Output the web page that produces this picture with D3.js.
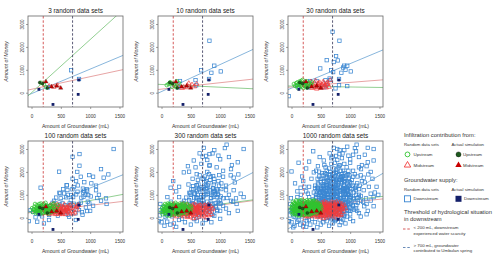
<!DOCTYPE html>
<html><head><meta charset="utf-8">
<script src="https://cdn.jsdelivr.net/npm/d3@7"></script>
<style>body{margin:0;background:#fff}svg{display:block;font-family:"Liberation Sans",Arial,sans-serif}</style>
</head><body><svg id="c" width="500" height="261"></svg>
<script>
const panelTitles = ["3 random data sets","10 random data sets","30 random data sets","100 random data sets","300 random data sets","1000 random data sets"];
const xTicks = [0,500,1000,1500];
const yTicks = [0,1000,2000,3000];
const thresholds = [200,700];
const xTitle = "Amount of Groundwater (mL)";
const yTitle = "Amount of Money";

// Random data sets: each panel shows its own batch plus all earlier batches
const down3 = [[675,980],[280,235],[810,600]];
const down10 = [[817,2270],[900,1180],[850,870],[1010,930],[580,550],[315,510],[590,320]];
const down30 = [[700,2660],[600,1420],[790,1410],[490,1060],[710,900],[950,1180],[880,1100],[660,550],[430,510],[-45,-150],[810,330],[750,190],[950,290],[240,420],[560,240],[760,1600],[720,1340],[100,280],[650,620],[920,1000]];
const down100 = [[1400,3000],[1185,2120],[1310,1890],[818,2780],[470,2010],[985,1860],[1050,1790],[840,1790],[155,1310],[600,1410],[612,1210],[698,1240],[784,1135],[876,1270],[944,1240],[967,990],[887,920],[761,1020],[475,1090],[555,1060],[590,890],[498,845],[670,770],[384,740],[841,655],[985,625],[1185,740],[1270,845],[670,555],[487,580],[527,625],[784,480],[927,450],[97,-175],[69,20],[-17,335],[212,-250],[298,-100],[641,45],[756,-100],[1100,1200],[1150,1000],[1230,1750],[1020,1500],[900,1550],[620,1000],[540,1250],[420,880],[360,650],[700,400],[860,240],[1050,520],[1280,600],[300,120],[180,60],[450,90],[620,130],[780,2000],[700,1700],[1100,1400],[960,700],[720,610],[550,430],[400,330],[150,150],[30,250],[870,130],[1000,300],[610,280],[1120,860]];
const down300 = [[1110,3190],[1080,3040],[970,2710],[650,2810],[780,2520],[870,2810],[1300,2420],[580,2200],[380,1980],[300,1350],[1250,1540],[1200,2300],[1000,2550],[900,2950],[550,2500],[450,2250],[1230,1200],[1350,1050],[200,1600],[100,900],[720,3050],[820,2300],[940,2200],[1150,2650],[680,2350],[600,1900],[1050,2050],[1180,1850],[760,2700],[250,1150],
[-30,100],[0,-200],[50,-350],[150,-300],[250,-400],[400,-200],[500,-300],[600,-150],[700,-250],[850,-200],[1000,-50],[1150,200],[1300,300],[1400,900],[20,450],[80,150],[350,-50],[560,-60],[900,80],[1100,400],[1220,700],[1050,850],[-20,600],[160,700],[300,900],
[520,620],[560,880],[600,1150],[640,760],[680,1320],[720,980],[760,540],[800,1500],[840,860],[880,1280],[920,640],[960,1050],[500,1000],[540,1380],[580,520],[620,1650],[660,420],[700,1150],[740,1800],[780,700],[820,1200],[860,450],[900,1700],[940,900],[980,1400],[470,760],[510,1250],[550,300],[590,700],[630,1450],[670,900],[710,360],[750,1250],[790,1050],[830,1650],[870,600],[910,1150],[950,350],[990,750],[1020,1250],[480,420],[530,1700],[570,1050],[610,850],[650,1850],[690,620],[730,1550],[770,280],[810,1900],[850,1000],[890,1450],[930,500],[970,1600],[1010,620],[460,1450],[500,250],[540,580],[700,750],[760,1400],[820,380],[880,1820],[640,1250],[600,220],[720,1700],[780,1300]];
const down1000 = [[0,2020],[120,2400],[370,2900],[250,2150],[1300,3050],[1250,2750],[1400,2500],[1350,2000],[1200,1600],[1450,1350],[1100,2900],[950,3100],[820,2950],[680,2600],[560,2300],[480,2650],[420,2050],[300,2450],[180,1800],[60,1500],[1000,2400],[1150,2200],[860,2600],[740,2400],[640,2150],[1280,2250],[1380,1700],[1050,2750],[900,2350],[780,3000],[520,1950],[340,1700],[220,1350],[1420,1100],[1320,1350],
[-40,-150],[30,-420],[120,-100],[200,-380],[320,-300],[440,-420],[540,-200],[640,-350],[740,-150],[820,-320],[920,-250],[1050,-150],[1180,50],[1280,150],[1400,500],[-50,300],[40,50],[260,-150],[480,-80],[680,-60],[880,-80],[1120,300],[1240,500],[1350,750],[-10,850],[100,1150],[1480,1000],[400,1300],[280,1050],[160,1000],[50,300],[150,250],[100,500],
[400,450],[420,900],[440,1300],[460,600],[480,1100],[500,1550],[520,350],[540,820],[560,1200],[580,1750],[600,450],[620,1050],[640,560],[660,1400],[680,200],[700,1900],[720,500],[740,1050],[760,1650],[780,380],[800,800],[820,1350],[840,2050],[860,700],[880,1150],[900,300],[920,1300],[940,1850],[960,560],[980,1000],[410,700],[430,1150],[450,350],[470,1800],[490,680],[510,870],[530,1450],[550,650],[570,1950],[590,1000],[610,1300],[630,350],[650,1600],[670,780],[690,1050],[710,1300],[730,250],[750,800],[770,1150],[790,1850],[810,600],[830,1000],[850,1500],[870,1800],[890,900],[910,650],[930,1100],[950,1500],[970,2050],[990,450],[1010,900],[1030,1650],[1060,1100],[1090,700],[1120,1500],[1150,1250],[1180,950],[1080,1900],[600,2050],[720,2150],[800,2200],[880,2050],[960,1900],[650,1750],[550,1600],[450,1500],[380,1100],[370,800],[390,250],[700,1450],[760,950],[820,450],[860,1200],[660,1050],[620,750],[580,1450],[540,1100],[500,750],[460,1000],[740,1350],[780,1550],[840,1750],[900,1600],[940,1300],[980,1700],[1000,1300],[1040,550],[1070,350],[1100,1000],[1130,650],[680,1700],[560,950],[640,1900],[760,1950],[820,1650],[900,1400],[700,600],[600,650],[520,1150],[780,1100],
[395,600],[415,1000],[435,200],[455,1250],[475,500],[495,1700],[515,950],[535,250],[555,1400],[575,800],[595,1550],[615,500],[635,1150],[655,300],[675,1500],[695,850],[715,1750],[735,650],[755,1500],[775,900],[795,1300],[815,200],[835,1150],[855,1900],[875,400],[895,1250],[915,1750],[935,700],[955,1200],[975,300],[995,1550],[405,1400],[425,550],[445,1700],[465,850],[485,300],[505,1300],[525,750],[545,1850],[565,450],[585,1150],[605,1750],[625,900],[645,1350],[665,600],[685,1250],[705,1050],[725,1950],[745,450],[765,1250],[785,750],[805,1700],[825,850],[845,350],[865,1550],[885,700],[905,1950],[925,850],[945,450],[965,1350],[985,850],[1005,1100],[1025,400],[1045,1400],[1065,800],[1085,1300],[1105,550],[1125,1800],[1145,900],[1165,1400],[660,2000],[760,2100],[860,1650],[560,1300],[460,1200],[700,100],[800,50],[900,150],[600,100],[500,100],[650,0],[750,-50],[850,0],[950,50],[1000,150]];

const up3 = [[160,430],[210,370],[250,240]];
const up10 = [[145,450],[225,305],[120,380],[180,260],[300,420],[90,330],[260,500]];
const up30 = [[150,410],[100,450],[170,520],[230,480],[60,300],[280,350],[200,200],[130,250],[320,300],[350,450],[40,380],[190,560],[110,200],[240,420],[270,260],[80,420],[210,330],[160,300],[330,380],[140,500]];
const up100 = [[20,250],[50,480],[70,200],[90,550],[110,300],[130,600],[150,180],[170,380],[190,450],[210,600],[230,250],[250,550],[270,420],[290,180],[310,500],[340,250],[360,580],[380,620],[400,350],[430,450],[30,350],[60,600],[100,380],[120,520],[140,330],[160,620],[180,200],[200,500],[220,400],[240,650],[260,300],[280,480],[300,250],[320,550],[350,350],[370,480],[420,300],[450,550],[10,420],[85,260]];
const up300 = [[15,150],[45,300],[75,450],[95,100],[125,420],[145,560],[165,120],[185,330],[205,470],[225,150],[245,350],[265,580],[285,300],[305,130],[325,440],[345,560],[365,200],[385,400],[405,520],[425,180],[445,380],[470,480],[490,250],[510,400],[35,520],[55,200],[105,620],[135,90],[175,540],[195,250],[215,420],[235,560],[255,180],[275,460],[295,380],[315,620],[335,200],[355,320],[375,540],[395,260],[415,450],[435,600],[455,300],[480,350],[500,500],[5,280],[65,380],[115,250],[155,480],[195,150]];
const up1000 = [[10,550],[30,200],[50,650],[70,350],[90,700],[110,150],[130,450],[150,750],[170,280],[190,650],[210,120],[230,720],[250,430],[270,680],[290,520],[310,760],[330,320],[350,680],[370,380],[390,700],[410,600],[430,350],[450,650],[470,420],[20,480],[40,620],[60,150],[80,760],[100,520],[120,320],[140,680],[160,220],[180,780],[200,360],[220,560],[240,220],[260,760],[280,600],[300,420],[320,700],[340,480],[360,200],[380,760],[400,480],[420,700],[440,250],[460,560],[0,400],[25,700],[75,560],[95,420],[125,720],[145,130],[165,600],[185,420],[205,740],[225,330],[245,620],[265,150],[285,700],[305,560],[325,160],[345,600],[365,720],[385,300],[405,400],[425,550],[445,480],[465,300],[485,600]];

const mid3 = [[300,290],[380,250],[440,320]];
const mid10 = [[465,410],[520,350],[250,300],[600,380],[350,200],[420,230],[560,270]];
const mid30 = [[290,400],[330,480],[370,350],[410,520],[450,250],[480,450],[510,200],[540,480],[570,330],[610,450],[640,250],[660,550],[390,430],[430,170],[500,300],[590,220],[620,370],[350,300],[460,380],[550,420]];
const mid100 = [[250,200],[270,450],[300,150],[320,550],[340,380],[360,250],[380,500],[400,150],[420,420],[440,580],[460,300],[480,150],[500,500],[520,250],[540,400],[560,580],[580,150],[600,450],[620,280],[640,520],[660,180],[680,400],[700,300],[720,520],[740,220],[760,450],[780,350],[800,550],[260,350],[310,280],[370,600],[430,350],[490,380],[530,150],[590,330],[650,420],[710,170],[770,500],[350,450],[470,520]];
const mid300 = [[210,100],[230,300],[260,50],[280,250],[300,480],[330,100],[350,350],[380,50],[400,300],[420,500],[440,100],[460,450],[490,50],[510,320],[530,550],[550,100],[570,250],[600,0],[620,500],[640,100],[660,320],[690,50],[710,400],[730,100],[750,300],[780,150],[800,420],[820,250],[840,500],[860,350],[240,150],[290,400],[320,200],[370,450],[410,200],[450,20],[480,280],[520,450],[560,350],[590,550],[630,200],[670,520],[700,220],[740,550],[770,0],[810,100],[850,150],[880,400],[360,150],[540,-30]];
const mid1000 = [[200,350],[220,550],[240,450],[260,650],[280,150],[300,600],[320,400],[340,650],[360,100],[380,350],[400,620],[420,250],[440,680],[460,150],[480,600],[500,200],[520,650],[540,300],[560,700],[580,400],[600,650],[620,100],[640,600],[660,450],[680,680],[700,500],[720,250],[740,650],[760,150],[780,600],[800,300],[820,650],[840,100],[860,600],[880,250],[250,500],[290,50],[310,500],[350,550],[390,150],[410,450],[450,550],[470,100],[510,500],[550,600],[570,50],[610,550],[650,300],[690,600],[730,400],[770,700],[810,500],[850,450],[230,100],[270,300],[330,300],[370,550],[430,600],[490,400],[530,100],[580,600],[630,420],[670,150],[710,650],[750,500],[790,200],[830,350],[870,500],[900,550],[920,400]];

// Actual simulation (same in every panel)
const actualUp = [[140,450],[190,400],[270,210]];
const actualMid = [[246,483],[343,263],[429,293],[498,205]];
const actualDown = [[126,146],[366,-512],[796,-73],[807,556]];

// Fitted lines per panel: [intercept, slope]
const fitUp = [[0,2.32],[360,-0.12],[290,-0.04],[270,0.48],[250,0.34],[480,0.29]];
const fitMid = [[150,0.55],[157,0.28],[250,0.2],[230,0.31],[200,0.35],[400,0.27]];
const fitDown = [[-40,1.07],[50,1.18],[200,1.07],[270,1.03],[-100,1.33],[-400,1.5]];

const downBatches = [down3,down10,down30,down100,down300,down1000];
const upBatches = [up3,up10,up30,up100,up300,up1000];
const midBatches = [mid3,mid10,mid30,mid100,mid300,mid1000];

const C = {up:"#2fc42f", mid:"#f23b3b", down:"#3a86d2", upA:"#1d5a1d", midA:"#c80000", downA:"#14206a",
  lUp:"#86c986", lMid:"#e49a9a", lDown:"#7aaed8", th1:"#d04848", th2:"#4a4a68", box:"#666", txt:"#333"};

const svg = d3.select("#c");
const lefts = [28,158,288], tops = [16,141], W = 95, H = 91;
const tri = d3.symbol().type(d3.symbolTriangle);

panelTitles.forEach((title,i)=>{
  const L = lefts[i%3], T = tops[Math.floor(i/3)];
  const x = d3.scaleLinear().domain([-60,1560]).range([L,L+W]);
  const y = d3.scaleLinear().domain([-624,3350]).range([T+H,T]);
  const g = svg.append("g");
  const cid = "clip"+i;
  g.append("clipPath").attr("id",cid).append("rect").attr("x",L).attr("y",T).attr("width",W).attr("height",H);
  const pg = g.append("g").attr("clip-path",`url(#${cid})`);

  [[fitDown[i],C.lDown],[fitMid[i],C.lMid],[fitUp[i],C.lUp]].forEach(([f,col])=>{
    const xs=[-60,1560];
    pg.append("line").attr("x1",x(xs[0])).attr("y1",y(f[0]+f[1]*xs[0])).attr("x2",x(xs[1])).attr("y2",y(f[0]+f[1]*xs[1]))
      .attr("stroke",col).attr("stroke-width",0.9);
  });

  const down = downBatches.slice(0,i+1).flat();
  const up = upBatches.slice(0,i+1).flat();
  const mid = midBatches.slice(0,i+1).flat();
  const s = 3.4;
  pg.append("g").selectAll("rect").data(down).join("rect")
    .attr("x",d=>x(d[0])-s/2).attr("y",d=>y(d[1])-s/2).attr("width",s).attr("height",s)
    .attr("fill","none").attr("stroke",C.down).attr("stroke-width",0.75);
  pg.append("g").selectAll("path").data(mid).join("path")
    .attr("d",tri.size(9)()).attr("transform",d=>`translate(${x(d[0])},${y(d[1])})`)
    .attr("fill","none").attr("stroke",C.mid).attr("stroke-width",0.7);
  pg.append("g").selectAll("circle").data(up).join("circle")
    .attr("cx",d=>x(d[0])).attr("cy",d=>y(d[1])).attr("r",1.8)
    .attr("fill","none").attr("stroke",C.up).attr("stroke-width",0.75);

  thresholds.forEach((t,k)=>{
    pg.append("line").attr("x1",x(t)).attr("x2",x(t)).attr("y1",T).attr("y2",T+H)
      .attr("stroke",k?C.th2:C.th1).attr("stroke-width",0.9).attr("stroke-dasharray","2.5,1.8");
  });

  pg.append("g").selectAll("rect").data(actualDown).join("rect")
    .attr("x",d=>x(d[0])-1.4).attr("y",d=>y(d[1])-1.4).attr("width",2.8).attr("height",2.8).attr("fill",C.downA);
  pg.append("g").selectAll("path").data(actualMid).join("path")
    .attr("d",tri.size(8)()).attr("transform",d=>`translate(${x(d[0])},${y(d[1])})`).attr("fill",C.midA).attr("stroke","#300").attr("stroke-width",0.3);
  pg.append("g").selectAll("circle").data(actualUp).join("circle")
    .attr("cx",d=>x(d[0])).attr("cy",d=>y(d[1])).attr("r",1.5).attr("fill",C.upA).attr("stroke","#000").attr("stroke-width",0.3);

  g.append("rect").attr("x",L).attr("y",T).attr("width",W).attr("height",H).attr("fill","none").attr("stroke",C.box).attr("stroke-width",0.8);

  const ax = g.append("g").attr("transform",`translate(0,${T+H})`)
    .call(d3.axisBottom(x).tickValues(xTicks).tickSize(2).tickPadding(5.6).tickFormat(d3.format("d")));
  ax.select(".domain").remove();
  ax.selectAll("line").attr("stroke",C.box).attr("stroke-width",0.6);
  ax.selectAll("text").attr("font-size",4.6).attr("fill",C.txt).attr("font-family",null);
  const ay = g.append("g").attr("transform",`translate(${L},0)`)
    .call(d3.axisLeft(y).tickValues(yTicks).tickSize(2).tickFormat(d3.format("d")));
  ay.select(".domain").remove();
  ay.selectAll("line").attr("stroke",C.box).attr("stroke-width",0.6);
  ay.selectAll("text").attr("font-size",4.6).attr("fill",C.txt).attr("font-family",null)
    .attr("transform","rotate(-90)").attr("text-anchor","middle").attr("x",0).attr("y",-4.2).attr("dy",null);

  g.append("text").attr("x",L+W/2).attr("y",T-3.2).attr("text-anchor","middle").attr("font-size",6.4).attr("fill","#222").text(title);
  g.append("text").attr("x",L+W/2).attr("y",T+H+21.3).attr("text-anchor","middle").attr("font-size",5.2).attr("fill",C.txt).text(xTitle);
  g.append("text").attr("transform",`translate(${L-19.8},${T+H/2}) rotate(-90)`).attr("text-anchor","middle")
    .attr("font-size",5.2).attr("font-style","italic").attr("fill",C.txt).text(yTitle);
});

const lg = svg.append("g").attr("fill","#333");
const t = (x,y,s,str)=>lg.append("text").attr("x",x).attr("y",y).attr("font-size",s).text(str);
t(404,137,5.8,"Infiltration contribution from:");
t(404,145.6,4.3,"Random data sets"); t(451.5,145.6,4.3,"Actual simulation");
lg.append("circle").attr("cx",407.5).attr("cy",154.4).attr("r",2.4).attr("fill","none").attr("stroke",C.up).attr("stroke-width",0.9);
t(413.5,156,4.4,"Upstream");
lg.append("circle").attr("cx",458.5).attr("cy",154.4).attr("r",2.5).attr("fill",C.upA).attr("stroke","#000").attr("stroke-width",0.4);
t(463,156,4.4,"Upstream");
lg.append("path").attr("d",tri.size(18)()).attr("transform","translate(407.5,165.2)").attr("fill","none").attr("stroke",C.mid).attr("stroke-width",0.9);
t(413.5,166.6,4.4,"Midstream");
lg.append("path").attr("d",tri.size(18)()).attr("transform","translate(458.5,165.2)").attr("fill",C.midA);
t(463,166.6,4.4,"Midstream");
t(404,182,5.8,"Groundwater supply:");
t(404,191,4.3,"Random data sets"); t(451.5,191,4.3,"Actual simulation");
lg.append("rect").attr("x",404.5).attr("y",195.8).attr("width",6).attr("height",6).attr("fill","none").attr("stroke",C.down).attr("stroke-width",0.9);
t(413.5,200.4,4.4,"Downstream");
lg.append("rect").attr("x",455.5).attr("y",195.8).attr("width",6).attr("height",6).attr("fill",C.downA);
t(464,200.4,4.4,"Downstream");
t(404,213.5,5.8,"Threshold of hydrological situation");
t(404,221,5.8,"in downstream");
lg.append("line").attr("x1",403).attr("x2",411).attr("y1",229).attr("y2",229).attr("stroke",C.th1).attr("stroke-width",0.9).attr("stroke-dasharray","2.5,1.8");
t(413.5,228.8,4.4,"< 200 mL, downstream");
t(413.5,234.6,4.4,"experienced water scarcity");
lg.append("line").attr("x1",403).attr("x2",411).attr("y1",247.5).attr("y2",247.5).attr("stroke","#5a7fb0").attr("stroke-width",0.9).attr("stroke-dasharray","2.5,1.8");
t(413.5,246.6,4.4,"> 700 mL, groundwater");
t(413.5,252.4,4.4,"contributed to Umbulan spring");
</script></body></html>
